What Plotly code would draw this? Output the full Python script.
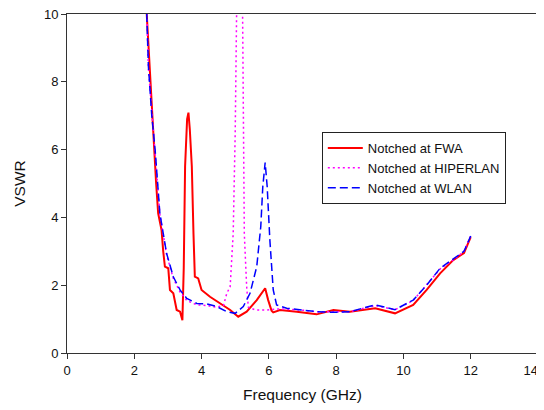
import plotly.graph_objects as go

# FWA notch (red solid)
fwa_f = [2.37, 2.45, 2.57, 2.65, 2.71, 2.77, 2.81, 2.86, 2.91, 3.01, 3.06, 3.16, 3.26, 3.36, 3.43,
         3.47, 3.51, 3.57, 3.61, 3.65, 3.71, 3.76, 3.80, 3.90, 4.00, 4.25, 4.55, 4.85, 5.09, 5.34,
         5.64, 5.89, 5.98, 6.08, 6.13, 6.33, 6.83, 7.42, 7.92, 8.41, 9.16, 9.75, 10.29, 10.69,
         11.09, 11.48, 11.8, 12.0]
fwa_v = [10.0, 8.5, 6.48, 5.0, 4.12, 3.8, 3.63, 3.0, 2.55, 2.50, 1.86, 1.76, 1.27, 1.22, 0.97,
         2.5, 5.5, 6.9, 7.09, 6.6, 5.5, 3.5, 2.25, 2.20, 1.86, 1.66, 1.46, 1.27, 1.07, 1.22,
         1.56, 1.91, 1.56, 1.25, 1.20, 1.27, 1.22, 1.14, 1.27, 1.22, 1.32, 1.17, 1.42, 1.86,
         2.35, 2.74, 2.95, 3.42]

# HIPERLAN notch (magenta dotted)
hip_f = [2.37, 2.42, 2.62, 2.76, 2.96, 3.16, 3.36, 3.56, 3.86, 4.15, 4.45, 4.65, 4.75, 4.85,
         4.94, 5.0, 5.04, 5.13, 5.22, 5.24, 5.27, 5.34, 5.39, 5.6, 5.95, 6.3, 6.93, 7.42, 7.92,
         8.41, 9.16, 9.75, 10.29, 10.69, 11.09, 11.5, 11.8, 12.0]
hip_v = [10.0, 8.4, 5.9, 4.1, 2.9, 2.2, 1.8, 1.55, 1.42, 1.40, 1.35, 1.4, 1.76, 1.96,
         3.53, 6.5, 9.9, 15.0, 9.9, 6.48, 3.53, 1.96, 1.35, 1.27, 1.27, 1.3, 1.27, 1.22, 1.22,
         1.22, 1.40, 1.28, 1.55, 2.0, 2.48, 2.76, 3.0, 3.45]

# WLAN notch (blue dashed)
wlan_f = [2.37, 2.42, 2.52, 2.62, 2.76, 2.96, 3.16, 3.36, 3.56, 3.86, 4.15, 4.45, 4.75, 5.00,
          5.24, 5.44, 5.64, 5.76, 5.82, 5.89, 5.95, 6.03, 6.13, 6.23, 6.53, 6.93, 7.42, 7.92,
          8.41, 9.16, 9.75, 10.29, 10.69, 11.09, 11.5, 11.8, 12.0]
wlan_v = [10.0, 8.45, 7.0, 5.99, 4.12, 2.94, 2.25, 1.86, 1.61, 1.46, 1.45, 1.37, 1.22, 1.17,
          1.37, 1.76, 2.55, 3.73, 4.91, 5.62, 4.91, 3.33, 1.86, 1.42, 1.32, 1.27, 1.22, 1.20,
          1.22, 1.42, 1.28, 1.56, 2.0, 2.50, 2.78, 3.0, 3.45]

x_ticks = [0, 2, 4, 6, 8, 10, 12, 14]
x_ticktext = ["0", "2", "4", "6", "8", "10", "12", "14\u00a0\u00a0\u00a0\u00a0"]
y_ticks = [0, 2, 4, 6, 8, 10]

fig = go.Figure()
fig.add_trace(go.Scatter(x=fwa_f, y=fwa_v, mode="lines", name="Notched at FWA",
                         line=dict(color="#FF0000", width=2)))
fig.add_trace(go.Scatter(x=hip_f, y=hip_v, mode="lines", name="Notched at HIPERLAN",
                         line=dict(color="#FF00FF", width=1.5, dash="2px,3px")))
fig.add_trace(go.Scatter(x=wlan_f, y=wlan_v, mode="lines", name="Notched at WLAN",
                         line=dict(color="#0000FF", width=1.5, dash="8px,4px")))

axis_common = dict(showline=True, linecolor="#333333", linewidth=1, mirror=True,
                   ticks="outside", ticklen=5, tickcolor="#333333", showgrid=False,
                   zeroline=False, automargin=False, ticklabeloverflow="allow",
                   tickfont=dict(family="Liberation Sans, Arial", size=13, color="#111111"))

# page body has an 8px margin, so the figure is drawn 8px smaller and offset
fig.update_layout(
    width=536, height=402,
    margin=dict(l=59, r=6, t=6, b=57),
    plot_bgcolor="white", paper_bgcolor="white",
    font=dict(family="Liberation Sans, Arial", color="#111111"),
    xaxis=dict(range=[0, 14], tickvals=x_ticks, ticktext=x_ticktext,
               title=dict(text="Frequency (GHz)", font=dict(size=15.5), standoff=12), **axis_common),
    yaxis=dict(range=[0, 10], tickvals=y_ticks,
               title=dict(text="VSWR", font=dict(size=15.5), standoff=14), **axis_common),
    legend=dict(x=0.541, y=0.652, xanchor="left", yanchor="top",
                bordercolor="#222222", borderwidth=1, bgcolor="white",
                font=dict(size=13), itemwidth=35, tracegroupgap=0),
    showlegend=True,
)

fig.write_html("out.html")
